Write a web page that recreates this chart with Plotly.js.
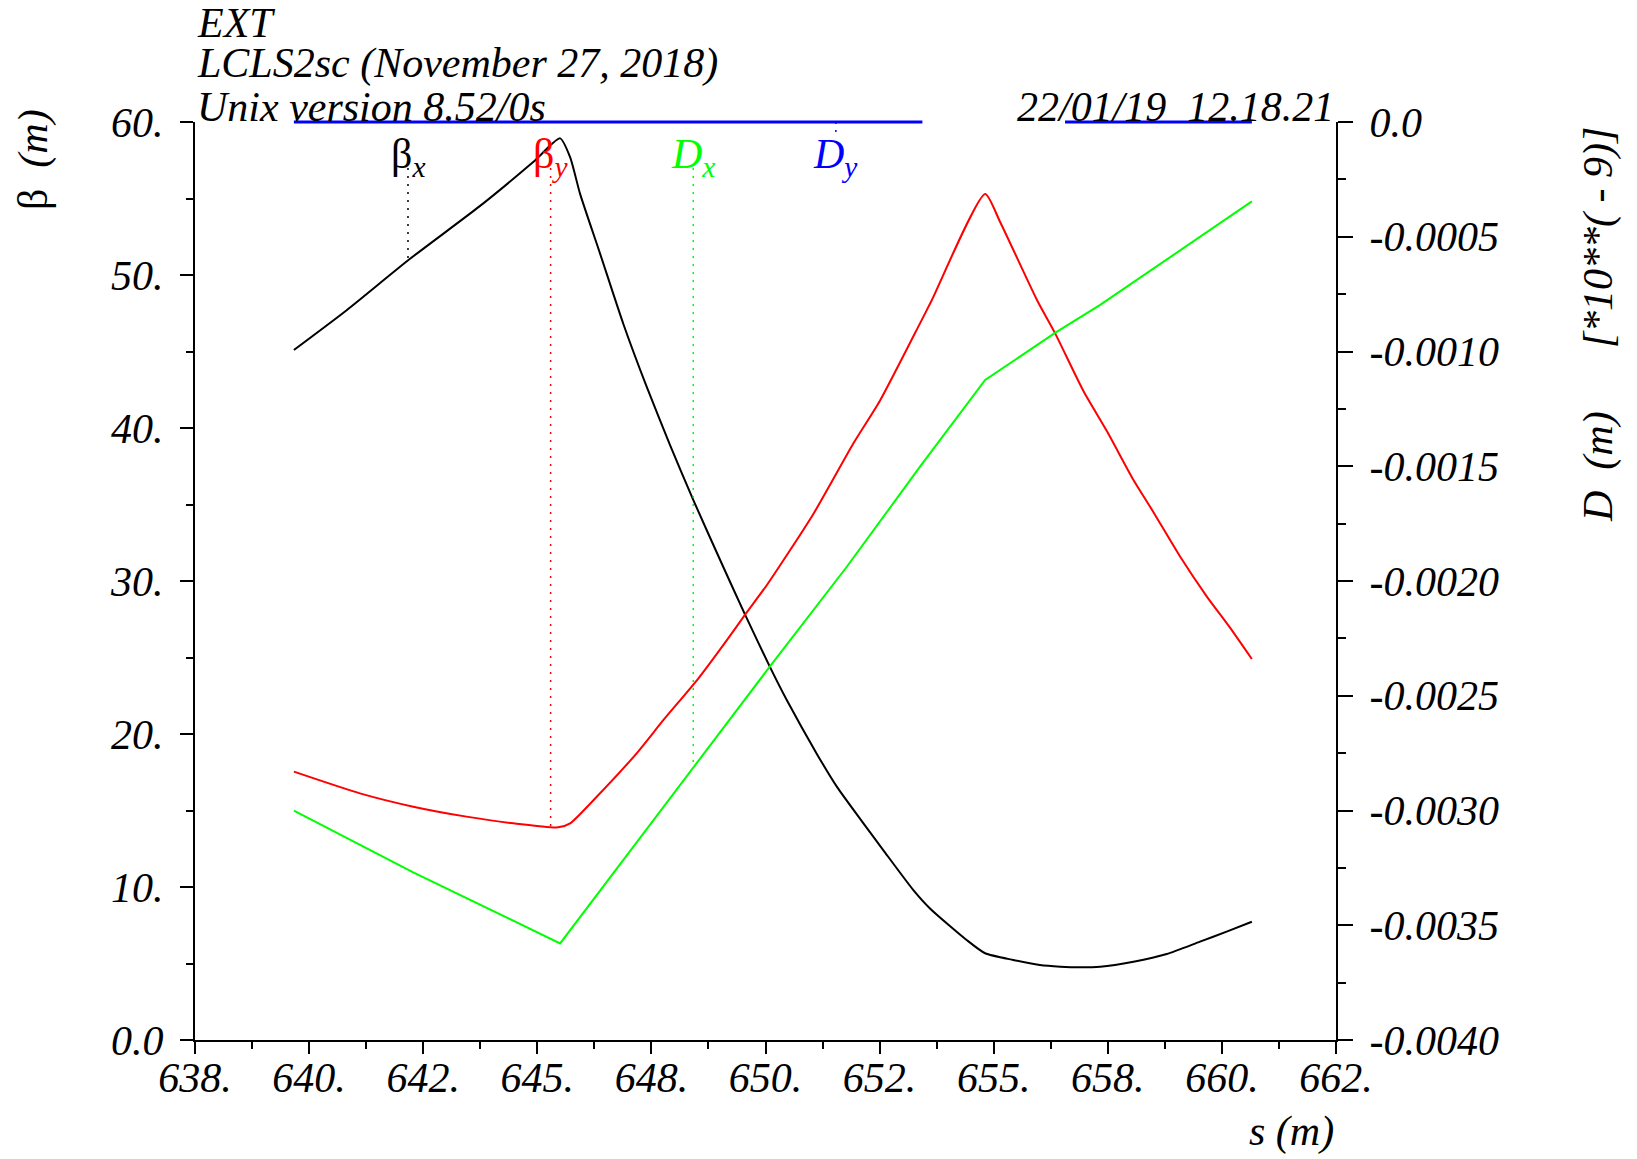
<!DOCTYPE html>
<html><head><meta charset="utf-8">
<script src="https://cdn.plot.ly/plotly-3.0.1.min.js"></script>
<style>html,body{margin:0;padding:0;background:#fff}</style>
</head><body>
<div id="chart" style="width:1637px;height:1159px"></div>
<script>
// ---- data ----
const sBetaX = [640.08, 641.19, 642.49, 643.99, 645.12, 645.68, 645.89, 646.10, 646.52, 647.01, 647.50, 647.99, 648.48, 649.11, 649.57, 650.09, 650.45, 651.08, 651.50, 652.06, 652.48, 653.11, 653.46, 654.23, 654.62, 655.21, 655.77, 656.20, 656.62, 657.04, 657.74, 658.44, 659.14, 659.70, 660.23];
const betaX  = [45.1, 47.7, 50.98, 54.5, 57.4, 58.93, 57.7, 55.3, 51.4, 46.8, 42.7, 38.9, 35.3, 30.93, 27.8, 24.4, 22.2, 18.7, 16.56, 14.16, 12.4, 9.8, 8.6, 6.54, 5.67, 5.23, 4.9, 4.79, 4.75, 4.79, 5.12, 5.62, 6.43, 7.08, 7.73];

const sBetaY = [640.08, 641.47, 642.59, 643.71, 644.70, 645.64, 645.89, 646.45, 647.29, 647.85, 648.59, 649.18, 649.57, 650.03, 651.01, 651.85, 652.41, 653.25, 653.50, 654.62, 654.93, 655.71, 656.09, 656.69, 657.18, 657.74, 658.16, 658.72, 659.28, 659.77, 660.23];
const betaY  = [17.54, 16.12, 15.25, 14.6, 14.16, 13.9, 14.16, 15.9, 18.74, 20.9, 23.64, 26.1, 27.8, 29.74, 34.4, 39.0, 41.8, 46.84, 48.37, 55.3, 53.5, 48.37, 46.2, 42.4, 39.8, 36.6, 34.5, 31.6, 29.0, 26.95, 24.9];

const sDx = [640.08, 642.59, 645.68, 648.59, 650.09, 651.71, 653.25, 654.62, 655.56, 656.09, 657.04, 660.23];
const dX  = [-0.003001, -0.00327, -0.003579, -0.002780, -0.002373, -0.001938, -0.001502, -0.001124, -0.000993, -0.000919, -0.000797, -0.000346];

// Dy lies on 0; not drawn between 653.3 and 656.3 in the reference
const sDy = [640.08, 653.30, 654.80, 656.30, 660.23];
const dY  = [0, 0, null, 0, 0];

const xTickVals = [638, 640.4, 642.8, 645.2, 647.6, 650, 652.4, 654.8, 657.2, 659.6, 662];
const xTickText = ['638.', '640.', '642.', '645.', '648.', '650.', '652.', '655.', '658.', '660.', '662.'];
const yTickVals = [0, 10, 20, 30, 40, 50, 60];
const yTickText = ['0.0', '10.', '20.', '30.', '40.', '50.', '60.'];
const y2TickVals = [0, -0.0005, -0.0010, -0.0015, -0.0020, -0.0025, -0.0030, -0.0035, -0.0040];
const y2TickText = ['0.0', '-0.0005', '-0.0010', '-0.0015', '-0.0020', '-0.0025', '-0.0030', '-0.0035', '-0.0040'];

const markerS = [642.48, 645.48, 648.48, 651.48];
const markerSym = ['β', 'β', 'D', 'D'];
const markerSub = ['x', 'y', 'x', 'y'];

const titleLines = ['EXT', 'LCLS2sc (November 27, 2018)', 'Unix version 8.52/0s'];
const dateText = '22/01/19\u00a0\u00a012.18.21';
const xTitle = 's (m)';

// ---- helpers ----
function interp(xs, ys, x) {
  for (let i = 0; i < xs.length - 1; i++) {
    if (x >= xs[i] && x <= xs[i + 1] && ys[i] !== null && ys[i + 1] !== null) {
      const t = (x - xs[i]) / (xs[i + 1] - xs[i]);
      return ys[i] + t * (ys[i + 1] - ys[i]);
    }
  }
  return ys[ys.length - 1];
}
function mids(v) { const o = []; for (let i = 0; i < v.length - 1; i++) o.push((v[i] + v[i + 1]) / 2); return o; }

const FONT = 'Liberation Serif';
const BLACK = '#000000', RED = '#ff0000', GREEN = '#00ff00', BLUE = '#0000ff';

const H = 1159, T = 117, B = 119;
const plotH = H - T - B;          // 923
const mainTopPx = 122, bottomPx = 1040;
const mainFrac = (bottomPx - mainTopPx) / plotH;
function py(px) { return (bottomPx - px) / plotH; }   // pixel -> paper y
const L = 195, R = 301, W = 1637, plotW = W - L - R;
function pxX(px) { return (px - L) / plotW; }

const dotted = '2px,6px';
const traces = [
  {x: sBetaX, y: betaX, mode: 'lines', line: {color: BLACK, width: 2, shape: 'spline', smoothing: 0.6}, xaxis: 'x', yaxis: 'y', hoverinfo: 'skip'},
  {x: sBetaY, y: betaY, mode: 'lines', line: {color: RED, width: 2, shape: 'spline', smoothing: 0.6}, xaxis: 'x', yaxis: 'y', hoverinfo: 'skip'},
  {x: sDx, y: dX, mode: 'lines', line: {color: GREEN, width: 2}, xaxis: 'x', yaxis: 'y2', hoverinfo: 'skip'},
  {x: sDy, y: dY, mode: 'lines', connectgaps: false, line: {color: BLUE, width: 3}, xaxis: 'x', yaxis: 'y3', hoverinfo: 'skip'},
  // dotted marker lines from label to curve
  {x: [markerS[0], markerS[0]], y: [57.0, interp(sBetaX, betaX, markerS[0])], mode: 'lines', line: {color: BLACK, width: 1.5, dash: dotted}, xaxis: 'x', yaxis: 'y'},
  {x: [markerS[1], markerS[1]], y: [57.0, interp(sBetaY, betaY, markerS[1])], mode: 'lines', line: {color: RED, width: 1.5, dash: dotted}, xaxis: 'x', yaxis: 'y'},
  {x: [markerS[2], markerS[2]], y: [-0.0002, interp(sDx, dX, markerS[2])], mode: 'lines', line: {color: GREEN, width: 1.5, dash: dotted}, xaxis: 'x', yaxis: 'y2'},
  {x: [markerS[3], markerS[3]], y: [interp(sDy, dY, markerS[3]), -0.00007], mode: 'lines', line: {color: BLUE, width: 1.5, dash: dotted}, xaxis: 'x', yaxis: 'y3'}
];

const tickFont = {family: FONT, size: 42, color: BLACK, style: 'italic'};
const axisCommon = {showgrid: false, zeroline: false, showline: true, linecolor: BLACK, linewidth: 2, tickcolor: BLACK, tickwidth: 2, fixedrange: true};

const annFont = {family: FONT, size: 42, color: BLACK, style: 'italic'};
const annotations = [];
// first line anchored by its top so it stays inside the page
annotations.push({text: titleLines[0], xref: 'paper', yref: 'paper', x: 0, y: py(-2), xanchor: 'left', yanchor: 'top', showarrow: false, font: annFont});
annotations.push({text: titleLines[1], xref: 'paper', yref: 'paper', x: 0, y: py(64), xanchor: 'left', yanchor: 'middle', showarrow: false, font: annFont});
annotations.push({text: titleLines[2], xref: 'paper', yref: 'paper', x: 0, y: py(107), xanchor: 'left', yanchor: 'middle', showarrow: false, font: annFont});
annotations.push({text: dateText, xref: 'paper', yref: 'paper', x: 1, y: py(107), xanchor: 'right', yanchor: 'middle', showarrow: false, font: annFont});
annotations.push({text: xTitle, xref: 'paper', yref: 'paper', x: 1, y: py(1131), xanchor: 'right', yanchor: 'middle', showarrow: false, font: annFont});
annotations.push({text: '<span style="font-style:normal">β</span>\u00a0\u00a0(m)', xref: 'paper', yref: 'paper', x: pxX(34), y: py(160), xanchor: 'center', yanchor: 'middle', textangle: -90, showarrow: false, font: annFont});
annotations.push({text: 'D\u00a0\u00a0(m)\u00a0\u00a0\u00a0\u00a0\u00a0\u00a0[*10**(\u00a0-\u00a09)]', xref: 'paper', yref: 'paper', x: pxX(1598), y: py(325), xanchor: 'center', yanchor: 'middle', textangle: -90, showarrow: false, font: annFont});
const mColors = [BLACK, RED, GREEN, BLUE];
const mY = [157, 157, 157, 157];
markerS.forEach((s, i) => {
  const sym = markerSym[i] === 'β' ? '<span style="font-style:normal">β</span>' : 'D';
  annotations.push({text: sym + '<sub>' + markerSub[i] + '</sub>', xref: 'x', yref: 'paper', x: s, y: py(mY[i]), xanchor: 'center', yanchor: 'middle', showarrow: false, font: {family: FONT, size: 42, color: mColors[i], style: 'italic'}});
});

const layout = {
  width: W, height: H,
  margin: {l: L, r: R, t: T, b: B, pad: 0},
  paper_bgcolor: '#ffffff', plot_bgcolor: 'rgba(0,0,0,0)',
  showlegend: false,
  xaxis: Object.assign({}, axisCommon, {range: [638, 662], domain: [0, 1], anchor: 'y', side: 'bottom', ticks: 'outside', ticklen: 12, tickmode: 'array', tickvals: xTickVals, ticktext: xTickText, tickfont: tickFont, ticklabelstandoff: -12,
    minor: {tickmode: 'array', tickvals: mids(xTickVals), ticks: 'outside', ticklen: 7, tickwidth: 2, tickcolor: BLACK, showgrid: false}}),
  xaxis2: Object.assign({}, axisCommon, {range: [638, 662], overlaying: 'x', anchor: 'y', side: 'top', ticks: 'inside', ticklen: 13, tickmode: 'array', tickvals: xTickVals, showticklabels: false,
    minor: {tickmode: 'array', tickvals: mids(xTickVals), ticks: 'inside', ticklen: 8, tickwidth: 2, tickcolor: BLACK, showgrid: false}}),
  yaxis: Object.assign({}, axisCommon, {range: [0, 60], domain: [0, mainFrac], anchor: 'x', side: 'left', ticks: 'outside', ticklen: 13, tickmode: 'array', tickvals: yTickVals, ticktext: yTickText, tickfont: tickFont, ticklabelstandoff: 8,
    minor: {tickmode: 'array', tickvals: mids(yTickVals), ticks: 'outside', ticklen: 7, tickwidth: 2, tickcolor: BLACK, showgrid: false}}),
  yaxis2: Object.assign({}, axisCommon, {range: [-0.004, 0], overlaying: 'y', anchor: 'x', side: 'right', ticks: 'outside', ticklen: 15, tickmode: 'array', tickvals: y2TickVals, ticktext: y2TickText, tickfont: tickFont, ticklabelstandoff: 8,
    minor: {tickmode: 'array', tickvals: mids(y2TickVals), ticks: 'outside', ticklen: 8, tickwidth: 2, tickcolor: BLACK, showgrid: false}}),
  yaxis3: {range: [-0.004, 0.004 * (mainTopPx - T) / (bottomPx - mainTopPx)], domain: [0, 1], anchor: 'x', visible: false, fixedrange: true},
  annotations: annotations
};

Plotly.newPlot('chart', traces, layout, {staticPlot: true, displayModeBar: false});
</script>
</body></html>
